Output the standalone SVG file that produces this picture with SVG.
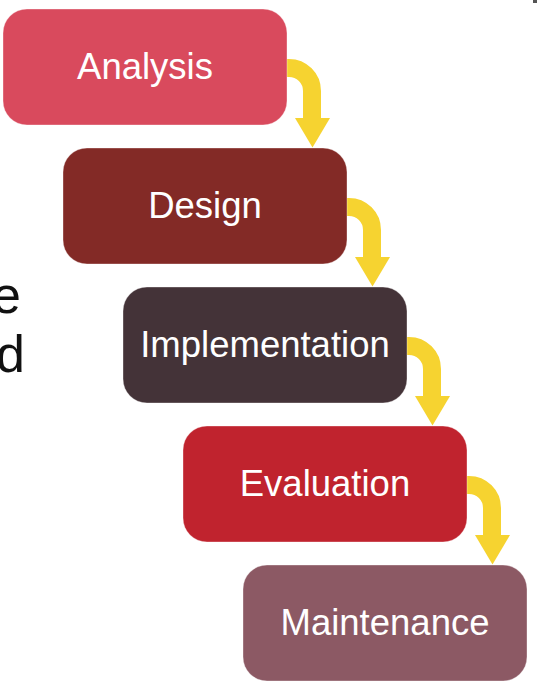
<svg xmlns="http://www.w3.org/2000/svg" width="537" height="687" viewBox="0 0 537 687">
  <defs>
    <style>
      .box { stroke: #ffffff; stroke-opacity: 0.35; stroke-width: 1; }
      .lbl { font-family: "Liberation Sans", Arial, sans-serif; font-size: 36.5px; fill: #ffffff; text-anchor: middle; }
      .side { font-family: "Liberation Sans", Arial, sans-serif; font-size: 52px; fill: #111111; text-anchor: end; }
      .band { fill: none; stroke: #F6D330; stroke-width: 18; }
      .head { fill: #F6D330; }
    </style>
    <g id="arrow">
      <path class="band" d="M278,68 L289,68 A23,23 0 0 1 312,91 L312,120"/>
      <polygon class="head" points="295,118 330,118 312.5,147.5"/>
    </g>
  </defs>
  <rect width="537" height="687" fill="#ffffff"/>
  <text class="side" x="21" y="313">e</text>
  <text class="side" x="25" y="372">d</text>
  <rect x="533" y="0" width="4" height="3" fill="#555555"/>
  <g id="connectors">
    <use href="#arrow"/>
    <use href="#arrow" transform="translate(60,139)"/>
    <use href="#arrow" transform="translate(120,278)"/>
    <use href="#arrow" transform="translate(180,417)"/>
  </g>
  <g id="analysis">
    <rect class="box" x="3" y="9" width="284" height="116" rx="24" fill="#D94A5D"/>
    <text class="lbl" x="145" y="78.5">Analysis</text>
  </g>
  <g id="design">
    <rect class="box" x="63" y="148" width="284" height="116" rx="24" fill="#832A26"/>
    <text class="lbl" x="205" y="217.5">Design</text>
  </g>
  <g id="implementation">
    <rect class="box" x="123" y="287" width="284" height="116" rx="24" fill="#443338"/>
    <text class="lbl" x="265" y="356.5">Implementation</text>
  </g>
  <g id="evaluation">
    <rect class="box" x="183" y="426" width="284" height="116" rx="24" fill="#C0232E"/>
    <text class="lbl" x="325" y="495.5">Evaluation</text>
  </g>
  <g id="maintenance">
    <rect class="box" x="243" y="565" width="284" height="116" rx="24" fill="#8C5964"/>
    <text class="lbl" x="385" y="634.5">Maintenance</text>
  </g>
</svg>
